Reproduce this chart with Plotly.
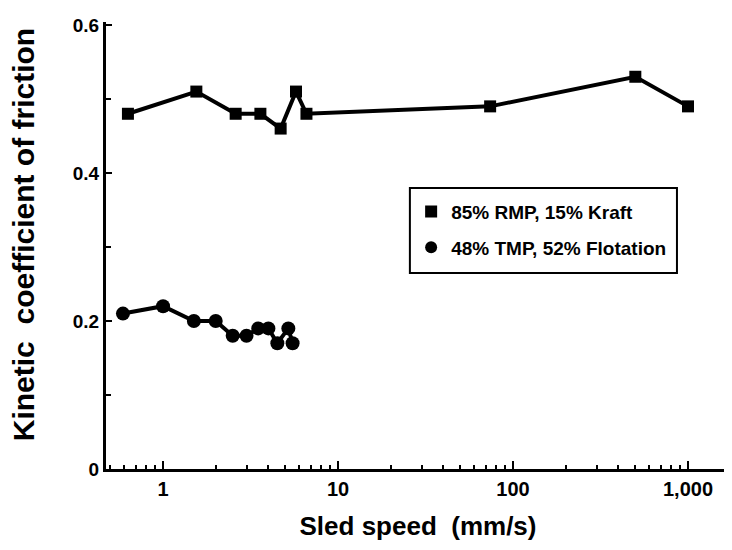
import plotly.graph_objects as go

# Data: 85% RMP, 15% Kraft (squares)
rmp_speed = [0.63, 1.55, 2.6, 3.6, 4.7, 5.75, 6.6, 74, 500, 1000]
rmp_cof = [0.48, 0.51, 0.48, 0.48, 0.46, 0.51, 0.48, 0.49, 0.53, 0.49]

# Data: 48% TMP, 52% Flotation (circles)
tmp_speed = [0.59, 1.0, 1.5, 2.0, 2.5, 3.0, 3.5, 4.0, 4.5, 5.2, 5.5]
tmp_cof = [0.21, 0.22, 0.20, 0.20, 0.18, 0.18, 0.19, 0.19, 0.17, 0.19, 0.17]

series_names = ["85% RMP, 15% Kraft", "48% TMP, 52% Flotation"]

x_tickvals = [1, 10, 100, 1000]
x_ticktext = ["1", "10", "100", "1,000"]
y_tickvals = [0, 0.2, 0.4, 0.6]
y_ticktext = ["0", "0.2", "0.4", "0.6"]

FONT = "Liberation Sans, Arial, sans-serif"

fig = go.Figure()

series = [
    (rmp_speed, rmp_cof, "square", 12, series_names[0], "g1"),
    (tmp_speed, tmp_cof, "circle", 14, series_names[1], "g2"),
]
for xs, ys, sym, size, name, grp in series:
    fig.add_trace(go.Scatter(
        x=xs, y=ys, mode="lines", line=dict(color="black", width=4),
        showlegend=False, hoverinfo="skip", legendgroup=grp))
    fig.add_trace(go.Scatter(
        x=xs, y=ys, mode="markers", name=name, legendgroup=grp,
        marker=dict(symbol=sym, size=size, color="black")))

# legend frame (drawn as a paper-anchored rectangle to get the roomy padding)
fig.add_shape(type="rect", xref="paper", yref="paper",
              x0=0.487, x1=0.915, y0=0.4385, y1=0.6286,
              line=dict(color="black", width=2), fillcolor="rgba(0,0,0,0)", layer="above")

# y-axis title as annotation (sits slightly above the axis centre in the original)
fig.add_annotation(
    text="Kinetic\u00a0 coefficient of friction", textangle=-90,
    xref="paper", yref="paper", x=0, y=0.523, xanchor="center", yanchor="middle",
    xshift=-83, showarrow=False,
    font=dict(size=30, family=FONT, weight="bold", color="black"),
)

fig.update_layout(
    width=724, height=542,
    margin=dict(l=98, r=2, t=14, b=81),
    paper_bgcolor="white", plot_bgcolor="white",
    font=dict(family=FONT, color="black"),
    legend=dict(
        x=0.489, y=0.618, xanchor="left", yanchor="top",
        borderwidth=0, bgcolor="rgba(0,0,0,0)",
        font=dict(size=19, family=FONT, weight="bold"),
        traceorder="grouped", tracegroupgap=8,
        itemsizing="constant",
    ),
)

fig.update_xaxes(
    type="log", range=[-0.326, 3.24], automargin=False,
    tickvals=x_tickvals, ticktext=x_ticktext,
    ticks="inside", ticklen=8, tickwidth=2, tickcolor="black",
    minor=dict(ticks="inside", ticklen=4, tickwidth=2, tickcolor="black", dtick="D1", showgrid=False),
    showline=True, linecolor="black", linewidth=3, mirror=False,
    showgrid=False, zeroline=False,
    tickfont=dict(size=20, family=FONT, weight="bold"),
    title=dict(text="Sled speed\u00a0 (mm/s)", font=dict(size=26, family=FONT, weight="bold"), standoff=18),
)
fig.update_yaxes(
    range=[0, 0.604], automargin=False,
    tickvals=y_tickvals, ticktext=y_ticktext,
    ticks="inside", ticklen=6, tickwidth=2, tickcolor="black",
    minor=dict(ticks="inside", ticklen=5, tickwidth=2, tickcolor="black", dtick=0.1, showgrid=False),
    showline=True, linecolor="black", linewidth=3, mirror=False,
    showgrid=False, zeroline=False,
    tickfont=dict(size=19, family=FONT, weight="bold"),
)

fig.write_html("out.html")
